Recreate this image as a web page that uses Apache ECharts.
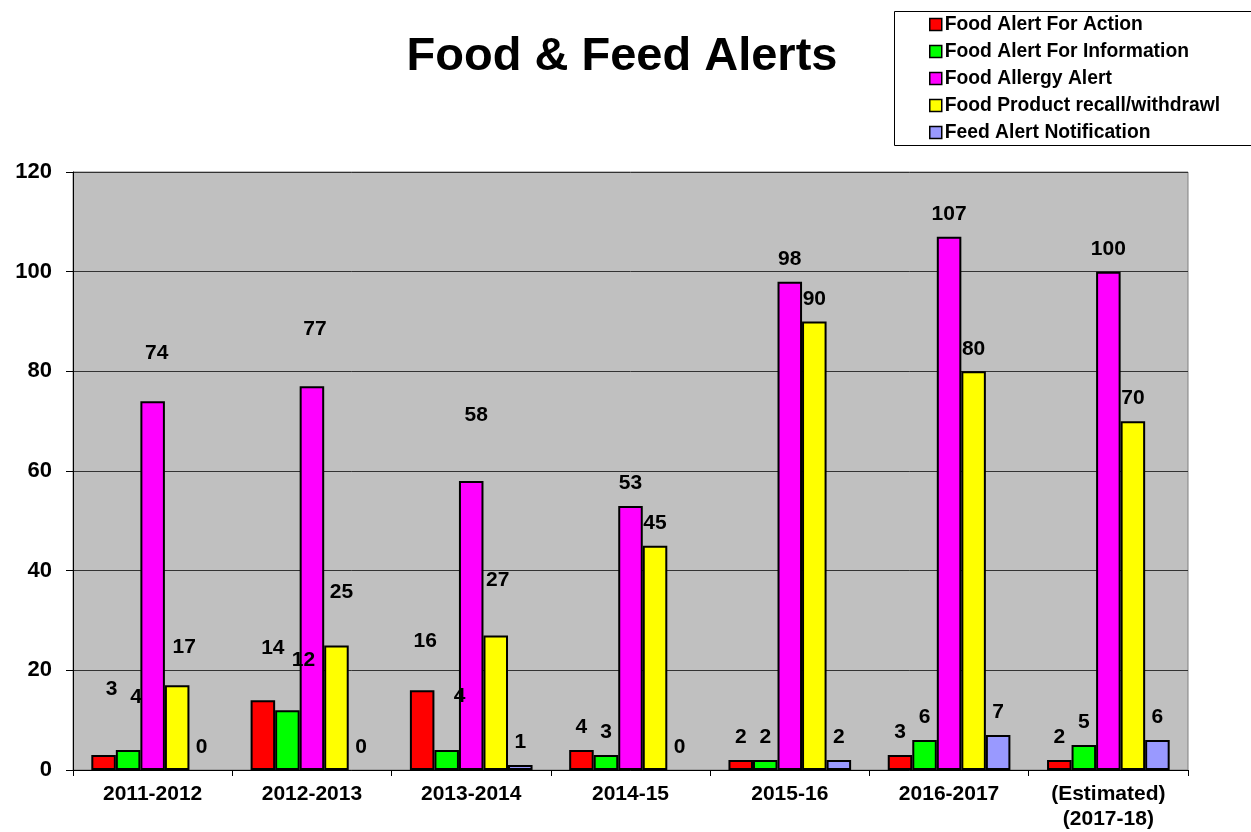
<!DOCTYPE html>
<html>
<head>
<meta charset="utf-8">
<title>Food &amp; Feed Alerts</title>
<script src="https://cdn.jsdelivr.net/npm/echarts@6/dist/echarts.min.js"></script>
<style>
  html, body { margin: 0; padding: 0; background: #ffffff; }
  #chart { width: 1251px; height: 832px; }
</style>
</head>
<body>
<div id="chart"></div>
<script>
// Reporting years
const years = ['2011-2012', '2012-2013', '2013-2014', '2014-15', '2015-16', '2016-2017', '(Estimated)\n(2017-18)'];

// Number of alerts per year, one array per alert type
const foodAlertForAction      = [3, 14, 16, 4, 2, 3, 2];
const foodAlertForInformation = [4, 12, 4, 3, 2, 6, 5];
const foodAllergyAlert        = [74, 77, 58, 53, 98, 107, 100];
const foodProductRecall       = [17, 25, 27, 45, 90, 80, 70];
const feedAlertNotification   = [0, 0, 1, 0, 2, 7, 6];

// Value axis ticks
const yTicks = [0, 20, 40, 60, 80, 100, 120];

const FONT = '"Liberation Sans", Arial, Helvetica, sans-serif';

// Hand-placed value labels for the earlier years ([dx, dy] in px)
const labelNudge = {
  action:      [[8, -43], [10, -30], [3, -27]],
  information: [[8, -30], [16, -27], [13, -31]],
  allergy:     [[4, -26], [3, -35], [5, -43]],
  recall:      [[7, -16], [5, -31], [2, -33]]
};

function withLabels(values, key) {
  const nudges = labelNudge[key] || [];
  return values.map((v, i) => {
    const item = { value: v };
    if (nudges[i]) item.label = { offset: nudges[i] };
    // an empty bar shows only its label, no outline
    if (v === 0) item.itemStyle = { borderWidth: 0 };
    return item;
  });
}

const seriesDefs = [
  { name: 'Food Alert For Action',         data: foodAlertForAction,      color: '#FF0000', key: 'action' },
  { name: 'Food Alert For Information',    data: foodAlertForInformation, color: '#00FF00', key: 'information' },
  { name: 'Food Allergy Alert',            data: foodAllergyAlert,        color: '#FF00FF', key: 'allergy' },
  { name: 'Food Product recall/withdrawl', data: foodProductRecall,       color: '#FFFF00', key: 'recall' },
  { name: 'Feed Alert Notification',       data: feedAlertNotification,   color: '#9999FF', key: 'feed' }
];

const chart = echarts.init(document.getElementById('chart'), null, { renderer: 'canvas' });

chart.setOption({
  animation: false,
  backgroundColor: '#ffffff',
  title: {
    text: 'Food & Feed Alerts',
    left: 617,
    textAlign: 'center',
    top: 28,
    textStyle: { fontFamily: FONT, fontSize: 47, fontWeight: 'bold', color: '#000000', lineHeight: 48 }
  },
  graphic: [{
    type: 'rect',
    shape: { x: 894.5, y: 11.5, width: 420, height: 134 },
    style: { fill: 'none', stroke: '#000000', lineWidth: 1 },
    silent: true
  }],
  legend: {
    orient: 'vertical',
    left: 929,
    top: 15,
    padding: 0,
    itemWidth: 12,
    itemHeight: 12,
    itemGap: 8,
    icon: 'rect',
    itemStyle: { borderColor: '#000000', borderWidth: 1.5 },
    textStyle: { fontFamily: FONT, fontSize: 19.3, fontWeight: 'bold', color: '#000000', padding: [0, 0, 0, -2] },
    data: seriesDefs.map(s => s.name)
  },
  grid: {
    left: 73,
    right: 63,
    top: 172,
    bottom: 62,
    show: true,
    backgroundColor: '#C0C0C0',
    borderColor: '#808080',
    borderWidth: 1
  },
  xAxis: {
    type: 'category',
    data: years,
    axisLine: { show: true, lineStyle: { color: '#000000', width: 1 } },
    axisTick: { show: true, length: 6, lineStyle: { color: '#000000' } },
    axisLabel: {
      fontFamily: FONT, fontSize: 21, fontWeight: 'bold', color: '#000000',
      margin: 12, lineHeight: 25, interval: 0
    },
    splitLine: { show: false }
  },
  yAxis: {
    type: 'value',
    min: yTicks[0],
    max: yTicks[yTicks.length - 1],
    interval: yTicks[1] - yTicks[0],
    axisLine: { show: true, lineStyle: { color: '#000000', width: 1 } },
    axisTick: { show: true, length: 7, lineStyle: { color: '#000000' } },
    axisLabel: { fontFamily: FONT, fontSize: 22, fontWeight: 'bold', color: '#000000', margin: 21 },
    splitLine: { show: true, lineStyle: { color: '#333333', width: 1 } }
  },
  series: seriesDefs.map(s => ({
    type: 'bar',
    name: s.name,
    data: withLabels(s.data, s.key),
    barGap: '0%',
    barCategoryGap: '23%',
    itemStyle: { color: s.color, borderColor: '#000000', borderWidth: 2 },
    label: {
      show: true,
      position: 'top',
      distance: 12,
      fontFamily: FONT,
      fontSize: 21,
      fontWeight: 'bold',
      color: '#000000'
    }
  }))
});
</script>
</body>
</html>
